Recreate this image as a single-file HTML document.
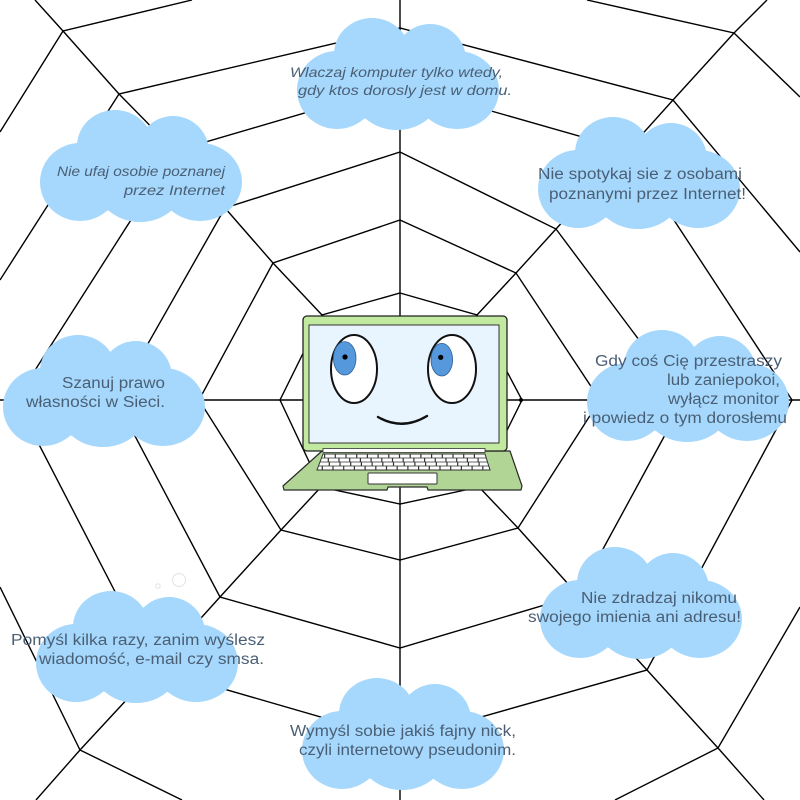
<!DOCTYPE html>
<html>
<head>
<meta charset="utf-8">
<style>
html,body{margin:0;padding:0;background:#fff;width:800px;height:800px;overflow:hidden;}
#wrap{width:800px;height:800px;overflow:hidden;position:relative;}
svg{display:block;overflow:hidden;}
.t{font-family:"Liberation Sans",Arial,sans-serif;font-size:15.5px;fill:#4a5f75;}
.h{font-family:"Liberation Sans",Arial,sans-serif;font-size:14px;font-style:italic;fill:#4a5f75;}
</style>
</head>
<body>
<div id="wrap">
<svg width="800" height="800" viewBox="0 0 800 800" xmlns="http://www.w3.org/2000/svg">
<defs>
<clipPath id="clipAll"><rect x="0" y="0" width="800" height="800"/></clipPath>
<g id="cloud">
<ellipse cx="40" cy="72" rx="40" ry="39"/>
<ellipse cx="100" cy="72" rx="45" ry="40"/>
<ellipse cx="160" cy="72" rx="42" ry="39"/>
<ellipse cx="75" cy="36" rx="38" ry="36"/>
<ellipse cx="133" cy="42" rx="36" ry="36"/>
<ellipse cx="100" cy="65" rx="70" ry="40"/>
</g>
</defs>
<g clip-path="url(#clipAll)">
<rect width="800" height="800" fill="#fff"/>

<!-- web -->
<g fill="none" stroke="#000" stroke-width="1.4" stroke-linejoin="miter">
<path d="M400,0 V800 M0,400 H800"/>
<polyline points="400,400 322,315 273,263 225,208 175,151 119,94 63,31 35,0"/>
<polyline points="400,400 477,315 516,273 556,229 628,150 673,100 734,33 767,0"/>
<polyline points="400,400 479,487 518,528 578,595 647,670 718,748 764,800"/>
<polyline points="400,400 321,487 281,530 220,597 155,669 80,750 36,800"/>
<polygon points="400,293 477,315 522,400 479,487 400,504 321,487 280,400 322,315"/>
<polygon points="400,220 516,273 600,400 518,528 400,560 281,530 199,400 273,263"/>
<polygon points="400,152 556,229 684,400 578,595 400,648 220,597 116,400 225,208"/>
<polygon points="400,85 628,150 792,400 647,670 400,740 155,669 16,400 175,151"/>
<polyline points="0,280 119,94 400,28 673,100 800,252"/>
<polyline points="800,607 718,748 615,800"/>
<polyline points="182,800 80,750 0,587"/>
<polyline points="0,132 63,31 192,0"/>
<polyline points="587,0 734,33 800,97"/>
</g>
<circle cx="521" cy="400" r="2" fill="#000"/>

<circle cx="158" cy="586" r="2.2" fill="none" stroke="#e2e2e2" stroke-width="1"/>
<circle cx="179" cy="580" r="6.5" fill="none" stroke="#e2e2e2" stroke-width="1"/>

<!-- clouds -->
<g fill="#a5d8fc">
<use href="#cloud" transform="translate(297,18)"/>
<use href="#cloud" transform="translate(40,110)"/>
<use href="#cloud" transform="translate(538,117)"/>
<use href="#cloud" transform="translate(587,330)"/>
<use href="#cloud" transform="translate(3,335)"/>
<use href="#cloud" transform="translate(540,547)"/>
<use href="#cloud" transform="translate(36,591)"/>
<use href="#cloud" transform="translate(302,678)"/>
</g>

<!-- texts -->
<text class="h" x="290" y="77" textLength="213" lengthAdjust="spacingAndGlyphs">Wlaczaj komputer tylko wtedy,</text>
<text class="h" x="298" y="95" textLength="214" lengthAdjust="spacingAndGlyphs">gdy ktos dorosly jest w domu.</text>

<text class="h" x="57" y="176" textLength="168" lengthAdjust="spacingAndGlyphs">Nie ufaj osobie poznanej</text>
<text class="h" x="124" y="195" textLength="101" lengthAdjust="spacingAndGlyphs">przez Internet</text>

<text class="t" x="538" y="179" textLength="204" lengthAdjust="spacingAndGlyphs">Nie spotykaj sie z osobami</text>
<text class="t" x="549" y="199" textLength="197" lengthAdjust="spacingAndGlyphs">poznanymi przez Internet!</text>

<text class="t" x="595" y="366" textLength="187" lengthAdjust="spacingAndGlyphs">Gdy coś Cię przestraszy</text>
<text class="t" x="667" y="385" textLength="113" lengthAdjust="spacingAndGlyphs">lub zaniepokoi,</text>
<text class="t" x="668" y="404" textLength="111" lengthAdjust="spacingAndGlyphs">wyłącz monitor</text>
<text class="t" x="583" y="423" textLength="204" lengthAdjust="spacingAndGlyphs">i powiedz o tym dorosłemu</text>

<text class="t" x="62" y="388" textLength="103" lengthAdjust="spacingAndGlyphs">Szanuj prawo</text>
<text class="t" x="26" y="407" textLength="139" lengthAdjust="spacingAndGlyphs">własności w Sieci.</text>

<text class="t" x="581" y="603" textLength="156" lengthAdjust="spacingAndGlyphs">Nie zdradzaj nikomu</text>
<text class="t" x="528" y="622" textLength="213" lengthAdjust="spacingAndGlyphs">swojego imienia ani adresu!</text>

<text class="t" x="11" y="645" textLength="254" lengthAdjust="spacingAndGlyphs">Pomyśl kilka razy, zanim wyślesz</text>
<text class="t" x="39" y="664" textLength="225" lengthAdjust="spacingAndGlyphs">wiadomość, e-mail czy smsa.</text>

<text class="t" x="290" y="736" textLength="226" lengthAdjust="spacingAndGlyphs">Wymyśl sobie jakiś fajny nick,</text>
<text class="t" x="299" y="755" textLength="217" lengthAdjust="spacingAndGlyphs">czyli internetowy pseudonim.</text>

<!-- laptop -->
<path d="M322,451 L510,451 L522,486 L521,490 L428,490 L427,487 L388,487 L387,490 L284,490 L283,486 Z" fill="#b1d594" stroke="#2a2a2a" stroke-width="1.2" stroke-linejoin="round"/>
<rect x="303" y="316" width="204" height="135" rx="4" fill="#c1e9a0" stroke="#222" stroke-width="1.3"/>
<rect x="309" y="325" width="190" height="118" fill="#e8f4fe" stroke="#333" stroke-width="1"/>
<rect x="323" y="448.5" width="162" height="4" fill="#fff" stroke="#333" stroke-width="0.8"/>
<polygon points="323,454 485,454 490,470 317,470" fill="#fff" stroke="#333" stroke-width="1"/>
<g stroke="#333" fill="none">
<line x1="322" y1="458" x2="486" y2="458" stroke-width="0.8"/>
<line x1="320" y1="462" x2="487.5" y2="462" stroke-width="0.8"/>
<line x1="319" y1="466" x2="489" y2="466" stroke-width="0.8"/>
<line x1="324" y1="456" x2="484" y2="456" stroke-width="4" stroke-dasharray="1.2 9.5"/>
<line x1="322" y1="460" x2="486" y2="460" stroke-width="4" stroke-dasharray="1.2 9.5" stroke-dashoffset="5"/>
<line x1="320" y1="464" x2="488" y2="464" stroke-width="4" stroke-dasharray="1.2 9.5" stroke-dashoffset="2"/>
<line x1="318" y1="468" x2="489" y2="468" stroke-width="4" stroke-dasharray="1.2 9.5" stroke-dashoffset="7"/>
</g>
<rect x="368" y="473" width="69" height="11" rx="1" fill="#fff" stroke="#333" stroke-width="1"/>

<!-- face -->
<ellipse cx="354" cy="369" rx="23" ry="34" fill="#fff" stroke="#111" stroke-width="2"/>
<ellipse cx="344.7" cy="358.3" rx="11.3" ry="16.7" fill="#5598dc" stroke="#2e5f95" stroke-width="0.8"/>
<circle cx="345" cy="357" r="2.6" fill="#000"/>
<ellipse cx="452" cy="369" rx="24" ry="34" fill="#fff" stroke="#111" stroke-width="2"/>
<ellipse cx="441.8" cy="359.7" rx="10.8" ry="16.3" fill="#5598dc" stroke="#2e5f95" stroke-width="0.8"/>
<circle cx="440.7" cy="357.3" r="2.6" fill="#000"/>
<path d="M378,417 Q402,431 427,416" fill="none" stroke="#111" stroke-width="2.4" stroke-linecap="round"/>
</g>
</svg>
</div>
</body>
</html>
